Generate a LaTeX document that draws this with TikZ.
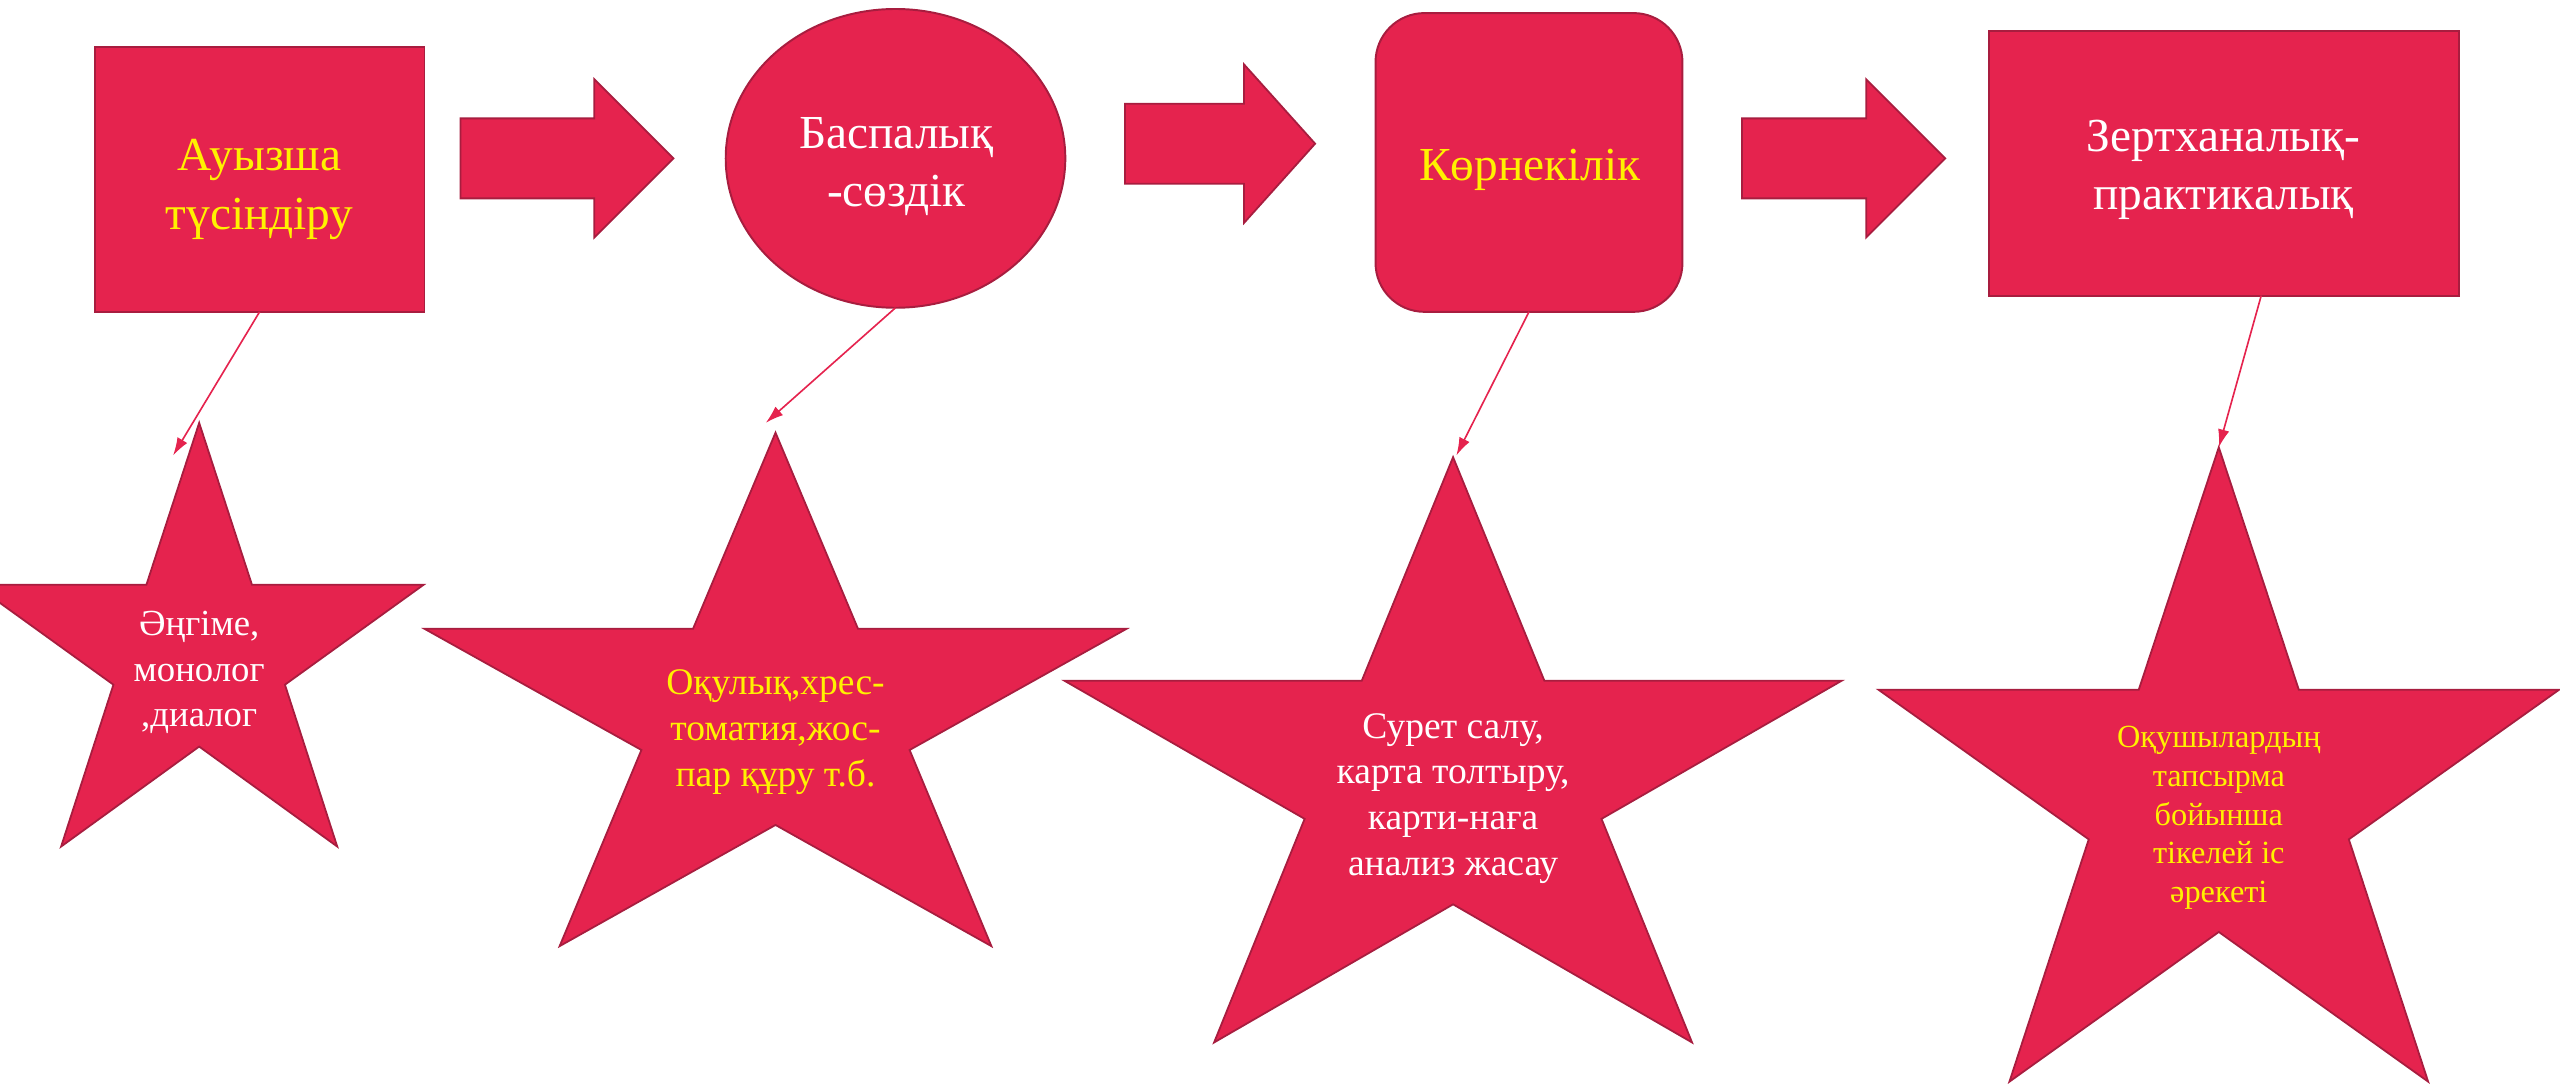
\documentclass[tikz,border=0pt]{standalone}
\usepackage{fontspec}
\setmainfont{Liberation Serif}
\usetikzlibrary{shapes.geometric,calc,arrows.meta}
\definecolor{crim}{HTML}{E5234E}
\definecolor{crimdark}{HTML}{A81D3F}
\tikzset{
  x=1pt,y=-1pt,
  shapebox/.style={draw=crimdark,fill=crim,line width=1.2pt,inner sep=0pt,outer sep=0pt},
  blockarrow/.style={draw=crimdark,fill=crim,line width=1.1pt,line join=miter},
  starshape/.style={draw=crimdark,fill=crim,line width=1.1pt,line join=miter},
  link/.style={draw=crim,line width=1pt,-{Latex[length=11pt,width=7pt]}},
  yel/.style={text=yellow,align=center,inner sep=0pt},
  wht/.style={text=white,align=center,inner sep=0pt},
  big/.style={font=\fontsize{29}{36}\selectfont},
  midt/.style={font=\fontsize{23}{28}\selectfont},
}
% \starpath{cx}{top}{bottom}{halfwidth}
\newcommand{\starpath}[4]{%
  \pgfmathsetmacro{\sh}{#3-#2}%
  \draw[starshape]
    (#1,#2)
    -- ({#1+0.235*#4},{#2+0.382*\sh})
    -- ({#1+#4},{#2+0.382*\sh})
    -- ({#1+0.382*#4},{#2+0.618*\sh})
    -- ({#1+0.615*#4},#3)
    -- (#1,{#2+0.764*\sh})
    -- ({#1-0.615*#4},#3)
    -- ({#1-0.382*#4},{#2+0.618*\sh})
    -- ({#1-#4},{#2+0.382*\sh})
    -- ({#1-0.235*#4},{#2+0.382*\sh})
    -- cycle;}
% \blockarr{x0}{xhead}{xtip}{ymid}
\newcommand{\blockarr}[4]{%
  \draw[blockarrow] (#1,#4-24.5) -- (#2,#4-24.5) -- (#2,#4-48.5) -- (#3-0.5,#4) -- (#2,#4+48.5) -- (#2,#4+24.5) -- (#1,#4+24.5) -- cycle;}
\begin{document}
\begin{tikzpicture}
\useasboundingbox (0,0) rectangle (1568,667.6);
% top shapes
\node[shapebox,rectangle,minimum width=202pt,minimum height=162pt] (a) at (159,110) {};
\node[shapebox,ellipse,minimum width=208pt,minimum height=183pt] (b) at (548.5,97) {};
\node[shapebox,rectangle,rounded corners=30pt,minimum width=188pt,minimum height=183pt] (c) at (936.5,99.5) {};
\node[shapebox,rectangle,minimum width=288pt,minimum height=162pt] (d) at (1362,100) {};
\node[yel,big] (ta) at (159,116) {Ауызша\\түсіндіру};
\node[wht,big] (tb) at (549,102) {Баспалық\\-сөздік};
\node[yel,big] (tc) at (937,104) {Көрнекілік};
\node[wht,big] (td) at (1362,104) {Зертханалық-\\практикалық};
% block arrows
\blockarr{282}{364}{413}{97}
\blockarr{689}{762}{806}{88}
\blockarr{1067}{1143}{1192}{97}
% stars
\starpath{122}{259}{518.5}{137.5}
\starpath{475}{265}{579.5}{215}
\starpath{890}{280}{638.5}{238}
\starpath{1359}{274}{662.5}{208.5}
\node[wht,font=\fontsize{22.5}{28}\selectfont] (sa) at (122,412) {Әңгіме,\\монолог\\,диалог};
\node[yel,midt] (sb) at (475,448.5) {Оқулық,хрес-\\томатия,жос-\\пар құру т.б.};
\node[wht,midt] (sc) at (890,489) {Сурет салу,\\карта толтыру,\\карти-наға\\анализ жасау};
\node[yel,font=\fontsize{19.8}{23.7}\selectfont] (sd) at (1359,501) {Оқушылардың\\тапсырма\\бойынша\\тікелей іс\\әрекеті};
% connector ends
\coordinate (ea) at (106,279);
\coordinate (eb) at (469,259);
\coordinate (ec) at (892,279);
\coordinate (ed) at (1359,274);
\draw[link] (a.south) -- (ea);
\draw[link] (b.south) -- (eb);
\draw[link] (c.south) -- (ec);
\draw[link] ($(d.south)+(23,0)$) -- (ed);
\end{tikzpicture}
\end{document}
